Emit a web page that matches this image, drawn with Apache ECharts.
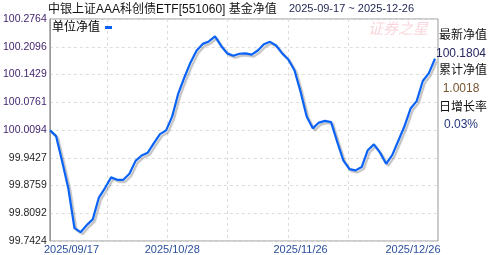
<!DOCTYPE html>
<html>
<head>
<meta charset="utf-8">
<script src="https://cdn.jsdelivr.net/npm/echarts@6/dist/echarts.min.js"></script>
<style>
html,body{margin:0;padding:0;background:#fff;}
#chart{width:488px;height:255px;}
</style>
</head>
<body>
<div id="chart"></div>
<script>
// ---- data ----
const titleText = '中银上证AAA科创债ETF[551060] 基金净值';
const rangeText = '2025-09-17 ~ 2025-12-26';
const seriesName = '单位净值';

const dates = [
  '2025/09/17','2025/09/18','2025/09/19','2025/09/22','2025/09/23','2025/09/24','2025/09/25','2025/09/26','2025/09/29','2025/09/30',
  '2025/10/14','2025/10/15','2025/10/16','2025/10/17','2025/10/20','2025/10/21','2025/10/22','2025/10/23','2025/10/24','2025/10/27',
  '2025/10/28','2025/10/29','2025/10/30','2025/10/31',
  '2025/11/03','2025/11/04','2025/11/05','2025/11/06','2025/11/07',
  '2025/11/10','2025/11/11','2025/11/12','2025/11/13','2025/11/14',
  '2025/11/17','2025/11/18','2025/11/19','2025/11/20','2025/11/21',
  '2025/11/24','2025/11/25','2025/11/26','2025/11/27','2025/11/28',
  '2025/12/01','2025/12/02','2025/12/03','2025/12/04','2025/12/05',
  '2025/12/08','2025/12/09','2025/12/10','2025/12/11','2025/12/12',
  '2025/12/15','2025/12/16','2025/12/17','2025/12/18','2025/12/19',
  '2025/12/22','2025/12/23','2025/12/24','2025/12/25','2025/12/26'
];

const navValues = [
  100.006, 99.992, 99.930, 99.865, 99.769, 99.759, 99.776, 99.790, 99.843, 99.866,
  99.892, 99.886, 99.886, 99.901, 99.932, 99.945, 99.952, 99.975, 99.997, 100.006,
  100.040, 100.096, 100.135, 100.171, 100.200, 100.216, 100.222, 100.234, 100.211, 100.193,
  100.187, 100.192, 100.193, 100.190, 100.200, 100.215, 100.221, 100.212, 100.193, 100.178,
  100.152, 100.100, 100.040, 100.011, 100.025, 100.029, 100.026, 99.978, 99.933, 99.912,
  99.909, 99.917, 99.958, 99.972, 99.952, 99.925, 99.946, 99.981, 100.016, 100.059,
  100.077, 100.126, 100.145, 100.1804
];

const yTickLabels = ['99.7424','99.8092','99.8759','99.9427','100.0094','100.0761','100.1429','100.2096','100.2764'];
const xTickLabels = ['2025/09/17','2025/10/28','2025/11/26','2025/12/26'];

const sideLabels = ['最新净值','累计净值','日增长率'];
const sideValues = ['100.1804','1.0018','0.03%'];
const watermark = '证券之星';

// ---- chart ----
const FONT = "'Liberation Sans', Arial, 'Noto Sans CJK SC', sans-serif";
const yMin = Number(yTickLabels[0]);
const yMax = Number(yTickLabels[yTickLabels.length - 1]);
const yInterval = (yMax - yMin) / (yTickLabels.length - 1);

const chart = echarts.init(document.getElementById('chart'), null, {renderer: 'canvas'});

const sideGraphics = [];
const sideY = [36, 53.5, 71, 89, 107.5, 124.5];
const valueColors = ['#262660', '#7a5530', '#23357a'];
for (let i = 0; i < sideLabels.length; i++) {
  sideGraphics.push({
    type: 'text', x: 463, y: sideY[i * 2],
    style: {text: sideLabels[i], font: '12px ' + FONT, fill: '#111', align: 'center', verticalAlign: 'middle'}
  });
  sideGraphics.push({
    type: 'text', x: 461, y: sideY[i * 2 + 1],
    style: {text: sideValues[i], font: '12px ' + FONT, fill: valueColors[i], align: 'center', verticalAlign: 'middle'}
  });
}

const option = {
  backgroundColor: '#ffffff',
  animation: false,
  textStyle: {fontFamily: FONT},
  grid: [
    {left: 46, right: 50, top: 19, bottom: 14, show: true, borderColor: '#999', borderWidth: 1, backgroundColor: 'transparent'},
    {left: 50, right: 53, top: 19, bottom: 14},
    {left: 46.5, width: 302, top: 19, bottom: 14}
  ],
  legend: {
    data: [seriesName],
    left: 52, top: 21.5, padding: 0,
    align: 'right',
    icon: 'rect', itemWidth: 7, itemHeight: 3,
    textStyle: {fontSize: 12, color: '#000', fontFamily: FONT}
  },
  xAxis: [
    {gridIndex: 0, type: 'value', min: 0, max: 1, show: false},
    {
      gridIndex: 1, type: 'category', data: dates, boundaryGap: false,
      axisLine: {show: false}, axisTick: {show: false}, splitLine: {show: false},
      axisLabel: {
        interval: (idx, name) => xTickLabels.includes(name),
        margin: 5,
        fontSize: 11, color: '#2b4f9e', fontFamily: FONT,
        formatter: (name) => {
          if (name === xTickLabels[0]) return '{first|' + name + '}';
          if (name === xTickLabels[xTickLabels.length - 1]) return '{last|' + name + '}';
          return '{mid|' + name + '}';
        },
        rich: {
          first: {fontSize: 11, color: '#2b4f9e', fontFamily: FONT, padding: [0, 0, 0, 43]},
          mid: {fontSize: 11, color: '#2b4f9e', fontFamily: FONT},
          last: {fontSize: 11, color: '#2b4f9e', fontFamily: FONT, padding: [0, 44, 0, 0]}
        }
      }
    },
    {
      gridIndex: 2, type: 'value', min: 0, max: 302.5, interval: 60.5,
      axisLine: {show: false}, axisTick: {show: false}, axisLabel: {show: false},
      splitLine: {show: true, showMinLine: false, lineStyle: {color: '#dddddd', type: [3, 3], width: 1}}
    }
  ],
  yAxis: [
    {
      gridIndex: 0, type: 'value', min: yMin, max: yMax, interval: yInterval,
      axisLine: {show: true, lineStyle: {color: '#999'}}, axisTick: {show: false},
      axisLabel: {
        margin: 3, fontSize: 10.5, fontFamily: FONT,
        formatter: (v) => yTickLabels[Math.round((v - yMin) / yInterval)],
        color: (v) => (Number(v) >= 100 ? '#3d1f6b' : '#1e1e1e')
      },
      splitLine: {show: true, lineStyle: {color: '#dddddd', type: [3, 3], width: 1}}
    },
    {gridIndex: 1, type: 'value', min: yMin, max: yMax, show: false},
    {gridIndex: 2, type: 'value', min: 0, max: 1, show: false}
  ],
  series: [
    {
      name: seriesName, type: 'line', xAxisIndex: 1, yAxisIndex: 1,
      data: navValues, symbol: 'none', smooth: false,
      itemStyle: {color: '#0b63f6'},
      lineStyle: {color: '#0b63f6', width: 2.2, shadowColor: 'rgba(0,0,0,0.25)', shadowBlur: 1, shadowOffsetX: 2, shadowOffsetY: 2}
    }
  ],
  graphic: [
    {type: 'text', x: 48, y: 9.5, style: {text: titleText, font: '12px ' + FONT, fill: '#111', verticalAlign: 'middle'}},
    {type: 'text', x: 289, y: 9, style: {text: rangeText, font: '11px ' + FONT, fill: '#1f2350', verticalAlign: 'middle'}},
    {type: 'text', x: 368, y: 30, z: -1, style: {text: watermark, font: 'italic 15px ' + FONT, fill: 'rgba(240,150,165,0.4)', verticalAlign: 'middle'}}
  ].concat(sideGraphics)
};

chart.setOption(option);
</script>
</body>
</html>
